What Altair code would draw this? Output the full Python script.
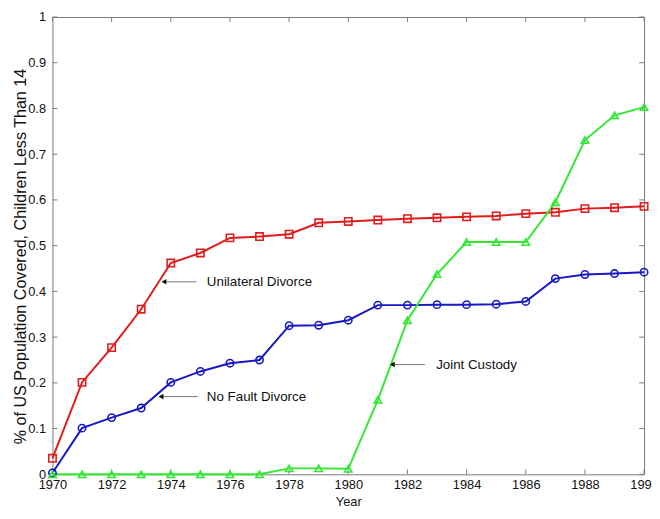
import altair as alt
import pandas as pd

years = list(range(1970, 1991))
unilateral = [0.035, 0.201, 0.277, 0.361, 0.462, 0.484, 0.517, 0.520, 0.525, 0.550, 0.553,
              0.556, 0.559, 0.561, 0.563, 0.565, 0.570, 0.573, 0.581, 0.583, 0.586]
no_fault = [0.003, 0.101, 0.124, 0.145, 0.201, 0.225, 0.243, 0.250, 0.325, 0.326, 0.337,
            0.370, 0.370, 0.371, 0.371, 0.372, 0.378, 0.428, 0.437, 0.439, 0.442]
joint = [0.0, 0.0, 0.0, 0.0, 0.0, 0.0, 0.0, 0.0, 0.013, 0.013, 0.012,
         0.163, 0.337, 0.438, 0.508, 0.508, 0.508, 0.595, 0.731, 0.785, 0.803]

series_names = ["Unilateral Divorce", "No Fault Divorce", "Joint Custody"]
series_colors = ["#e01c1c", "#1818c4", "#33e833"]
series_shapes = ["square", "circle", "triangle-up"]

x_ticks = list(range(1970, 1991, 2))
y_ticks = [round(i * 0.1, 1) for i in range(11)]

ann_labels = ["Unilateral Divorce", "No Fault Divorce", "Joint Custody"]
ann_y = [0.421, 0.170, 0.240]
ann_head = [1973.77, 1973.67, 1981.49]
ann_tail = [1974.87, 1974.91, 1982.59]
ann_text_x = [1975.22, 1975.22, 1982.97]

rows = []
for name, vals in zip(series_names, [unilateral, no_fault, joint]):
    for yr, v in zip(years, vals):
        rows.append({"year": yr, "value": v, "series": name})
df = pd.DataFrame(rows)

ann = pd.DataFrame({"label": ann_labels, "y": ann_y, "head": ann_head,
                    "tail": ann_tail, "tx": ann_text_x})
xt = pd.DataFrame({"x": x_ticks})
yt = pd.DataFrame({"y": y_ticks})

W, H = 599, 463
FONT = "Liberation Sans"
FRAME = "#7a7a7a"

xscale = alt.Scale(domain=[1970, 1990], nice=False, zero=False)
yscale = alt.Scale(domain=[0, 1], nice=False)
color = alt.Color("series:N", scale=alt.Scale(domain=series_names, range=series_colors), legend=None)
shape = alt.Shape("series:N", scale=alt.Scale(domain=series_names, range=series_shapes), legend=None)

x_axis = alt.Axis(values=x_ticks, format="d", ticks=False, tickSize=0, domain=False, grid=False,
                  labelFlush=False, labelOverlap=False,
                  labelFontSize=13, labelFont=FONT, labelColor="#111", labelPadding=4,
                  title="Year", titleFont=FONT, titleFontSize=13, titleFontWeight="normal",
                  titleColor="#111", titleBaseline="alphabetic", titleY=32)
y_axis = alt.Axis(values=y_ticks, format="~g", ticks=False, tickSize=0, domain=False, grid=False,
                  labelFlush=False, labelOverlap=False,
                  labelFontSize=13, labelFont=FONT, labelColor="#111", labelPadding=7,
                  title="% of US Population Covered, Children Less Than 14", titleFont=FONT,
                  titleFontSize=16.3, titleFontWeight="normal", titleColor="#111",
                  titleAngle=270, titleAlign="center", titleBaseline="alphabetic",
                  titleX=-27, titleY=242)

base = alt.Chart(df)
lines = base.mark_line(strokeWidth=2).encode(
    x=alt.X("year:Q", scale=xscale, axis=x_axis),
    y=alt.Y("value:Q", scale=yscale, axis=y_axis),
    color=color,
    detail="series:N",
)
points = base.mark_point(filled=False, strokeWidth=1.6, size=55, opacity=1).encode(
    x=alt.X("year:Q", scale=xscale),
    y=alt.Y("value:Q", scale=yscale),
    color=color,
    shape=shape,
)

tick_b = alt.Chart(xt).mark_rule(color=FRAME, strokeWidth=1).encode(
    x=alt.X("x:Q", scale=xscale), y=alt.value(H), y2=alt.value(H - 5))
tick_t = alt.Chart(xt).mark_rule(color=FRAME, strokeWidth=1).encode(
    x=alt.X("x:Q", scale=xscale), y=alt.value(0), y2=alt.value(5))
tick_l = alt.Chart(yt).mark_rule(color=FRAME, strokeWidth=1).encode(
    y=alt.Y("y:Q", scale=yscale), x=alt.value(0), x2=alt.value(5))
tick_r = alt.Chart(yt).mark_rule(color=FRAME, strokeWidth=1).encode(
    y=alt.Y("y:Q", scale=yscale), x=alt.value(W), x2=alt.value(W - 5))

a = alt.Chart(ann)
shaft = a.mark_rule(color="#777", strokeWidth=1).encode(
    x=alt.X("head:Q", scale=xscale), x2="tail:Q", y=alt.Y("y:Q", scale=yscale))
heads = a.mark_point(shape="triangle-left", filled=True, color="#111", size=32, opacity=1).encode(
    x=alt.X("head:Q", scale=xscale), y=alt.Y("y:Q", scale=yscale))
texts = a.mark_text(align="left", baseline="middle", font=FONT, fontSize=13.5, color="#111").encode(
    x=alt.X("tx:Q", scale=xscale), y=alt.Y("y:Q", scale=yscale), text="label:N")

chart = alt.layer(
    tick_b, tick_t, tick_l, tick_r, lines, points, shaft, heads, texts
).properties(
    width=W, height=H,
    autosize=alt.AutoSizeParams(type="none"),
    padding={"left": 45, "top": 6, "right": 8, "bottom": 34},
    background="white",
).configure_view(
    stroke=FRAME, strokeWidth=1
)

chart.save("out.html", embed_options={"renderer": "svg", "actions": False})
